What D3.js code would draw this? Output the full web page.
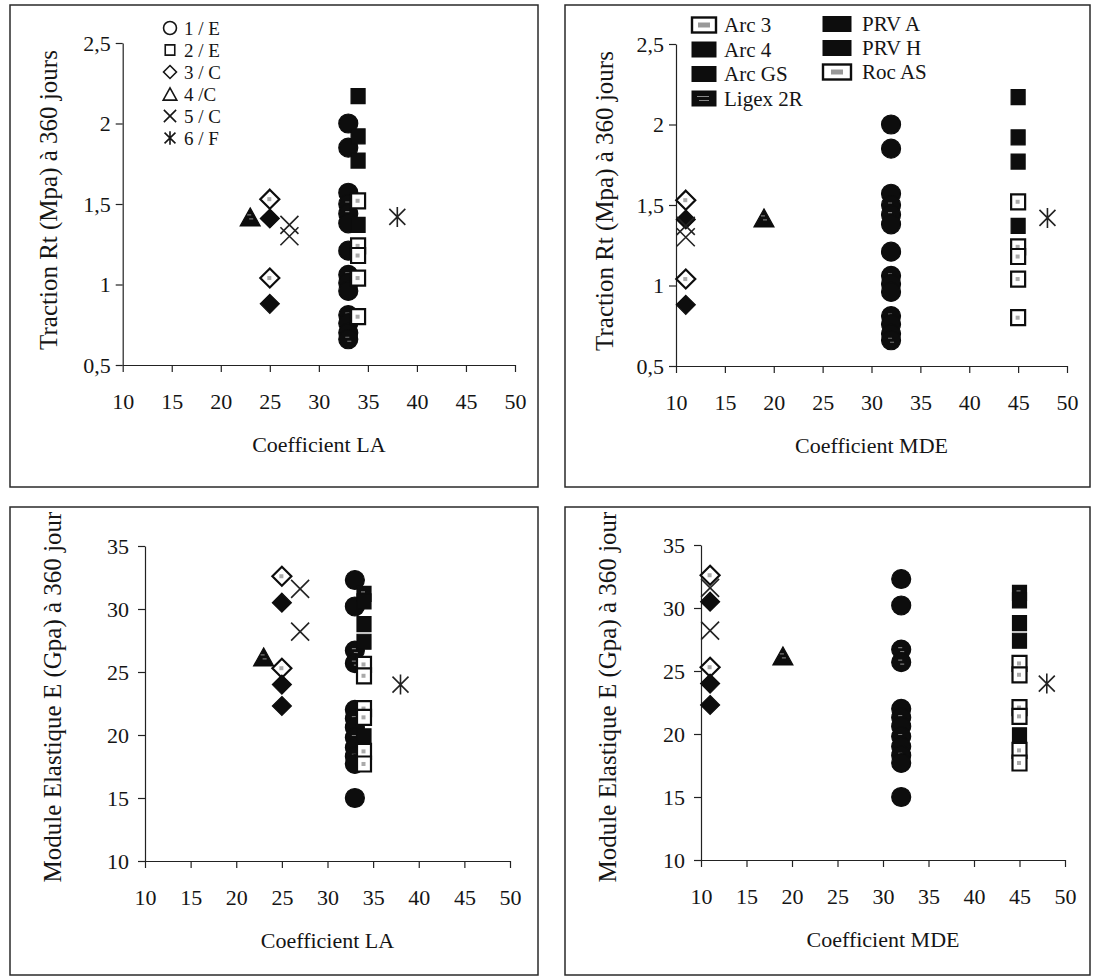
<!DOCTYPE html>
<html><head><meta charset="utf-8">
<script src="https://cdn.jsdelivr.net/npm/d3@7"></script>
<style>
body{margin:0;background:#fff}
text{font-family:"Liberation Serif","Times New Roman",serif;fill:#151515}
</style>
</head><body>
<svg id="c" width="1094" height="978"></svg>
<script>
// ---------------- data ----------------
const groups = ["1 / E", "2 / E", "3 / C", "4 /C", "5 / C", "6 / F"];
const groupLA = [33, 34, 25, 23, 27, 38];
const groupMDE = [32, 45, 11, 19, 11, 48];
const products = ["Arc 3", "Arc 4", "Arc GS", "Ligex 2R", "PRV A", "PRV H", "Roc AS"];

// Traction Rt (MPa) at 360 days, per group
const rtG1 = [2.00, 1.85, 1.57, 1.50, 1.44, 1.38, 1.21, 1.06, 1.01, 0.96, 0.81, 0.76, 0.70, 0.66];
const rtG1Prod = ["PRV A", "PRV H", "Arc GS", "Ligex 2R", "Ligex 2R", "Arc 4", "Arc 4", "Ligex 2R", "Arc GS", "PRV A", "Ligex 2R", "PRV H", "Arc 4", "Ligex 2R"];
const rtG2 = [2.17, 1.92, 1.77, 1.52, 1.37, 1.24, 1.18, 1.04, 0.80];
const rtG2Prod = ["PRV A", "PRV H", "Arc GS", "Arc 3", "Arc 4", "Roc AS", "Roc AS", "Arc 3", "Roc AS"];
const rtG3 = [1.53, 1.41, 1.04, 0.88];
const rtG3Prod = ["Arc 3", "Arc 4", "Roc AS", "Arc GS"];
const rtG4 = [1.42];
const rtG4Prod = ["Ligex 2R"];
const rtG5 = [1.37, 1.30];
const rtG5Prod = ["Arc 4", "Arc GS"];
const rtG6 = [1.42];
const rtG6Prod = ["PRV A"];

// Module élastique E (GPa) at 360 days, per group
const eG1 = [32.3, 30.2, 26.7, 25.7, 22.0, 21.3, 20.6, 19.8, 19.0, 18.3, 17.7, 15.0];
const eG1Prod = ["PRV A", "PRV H", "Ligex 2R", "Ligex 2R", "Arc 4", "Ligex 2R", "Arc GS", "Ligex 2R", "Arc 4", "Ligex 2R", "PRV H", "Arc GS"];
const eG2 = [31.2, 30.6, 28.8, 27.4, 25.6, 24.7, 22.1, 21.4, 19.9, 18.7, 17.7];
const eG2Prod = ["Ligex 2R", "PRV A", "PRV H", "Arc GS", "Arc 3", "Roc AS", "Arc 3", "Roc AS", "Arc 4", "Arc 3", "Roc AS"];
const eG3 = [32.6, 30.5, 25.3, 24.0, 22.3];
const eG3Prod = ["Arc 3", "Arc 4", "Roc AS", "Arc GS", "PRV A"];
const eG4 = [26.2];
const eG4Prod = ["Ligex 2R"];
const eG5 = [31.6, 28.2];
const eG5Prod = ["Arc 4", "Arc GS"];
const eG6 = [24.0];
const eG6Prod = ["PRV A"];

const rtTicks = [0.5, 1, 1.5, 2, 2.5];
const eTicks = [10, 15, 20, 25, 30, 35];
const xTicks = [10, 15, 20, 25, 30, 35, 40, 45, 50];

// ---------------- build ----------------
function build(vals, prods) {
  const out = [];
  vals.forEach((arr, g) => arr.forEach((v, i) => out.push({g, la: groupLA[g], mde: groupMDE[g], v, prod: prods[g][i]})));
  return out;
}
const rtPts = build([rtG1, rtG2, rtG3, rtG4, rtG5, rtG6], [rtG1Prod, rtG2Prod, rtG3Prod, rtG4Prod, rtG5Prod, rtG6Prod]);
const ePts = build([eG1, eG2, eG3, eG4, eG5, eG6], [eG1Prod, eG2Prod, eG3Prod, eG4Prod, eG5Prod, eG6Prod]);

const whiteProds = new Set(["Arc 3", "Roc AS"]);
const svg = d3.select("#c");
const fmt = d => String(d).replace(".", ",");

// marker shapes
function shapePath(g, s) {
  switch (g) {
    case 0: { const r = 9.5 * s; return `M${-r},0A${r},${r} 0 1,0 ${r},0A${r},${r} 0 1,0 ${-r},0Z`; }
    case 1: { const w = 7 * s, h = 7.5 * s; return `M${-w},${-h}H${w}V${h}H${-w}Z`; }
    case 2: { const h = 9.5 * s; return `M0,${-h}L${h},0L0,${h}L${-h},0Z`; }
    case 3: { const w = 10 * s, h = 9 * s; return `M0,${-h}L${w},${h}L${-w},${h}Z`; }
    case 4: { const r = 9 * s; return `M${-r},${-r}L${r},${r}M${-r},${r}L${r},${-r}`; }
    case 5: { const r = 8 * s, v = 10 * s; return `M${-r},${-r}L${r},${r}M${-r},${r}L${r},${-r}M0,${-v}L0,${v}`; }
  }
}

function drawMarker(sel, d, cx, cy) {
  const g = sel.append("g").attr("transform", `translate(${cx},${cy})`);
  if (d.g >= 4) {
    g.append("path").attr("d", shapePath(d.g, 1)).attr("fill", "none").attr("stroke", "#222").attr("stroke-width", 1.6);
    return;
  }
  const white = whiteProds.has(d.prod);
  g.append("path").attr("d", shapePath(d.g, 1))
    .attr("fill", white ? "#fff" : "#0d0d0d")
    .attr("stroke", "#0d0d0d").attr("stroke-width", white ? 2.2 : 1.2);
  if (white) {
    g.append("rect").attr("x", -2.5).attr("y", -2).attr("width", 4).attr("height", 4).attr("fill", "#aaa");
  } else if (d.prod === "Ligex 2R") {
    g.append("path").attr("d", "M-3,-2h4M-1,2h4").attr("stroke", "#777").attr("stroke-width", 1.2);
  }
}

const panels = [
  {pts: rtPts, key: "la", box: [10, 5, 538, 487], xr: [122.7, 515], yr: [365, 43], dom: [0.5, 2.5], ticks: rtTicks,
   xt: "Coefficient LA", yt: "Traction Rt (Mpa) à 360 jours", ytx: 48, yty: 200, ypad: 5},
  {pts: rtPts, key: "mde", box: [565, 5, 1090, 487], xr: [676, 1067], yr: [366, 44], dom: [0.5, 2.5], ticks: rtTicks,
   xt: "Coefficient MDE", yt: "Traction Rt (Mpa) à 360 jours", ytx: 604, yty: 201, ypad: 5},
  {pts: ePts, key: "la", box: [10, 507, 538, 975], xr: [145, 510], yr: [861, 546], dom: [10, 35], ticks: eTicks,
   xt: "Coefficient LA", yt: "Module Elastique E (Gpa) à 360 jour", ytx: 52, yty: 697, ypad: 9},
  {pts: ePts, key: "mde", box: [565, 507, 1090, 975], xr: [701, 1065], yr: [860, 545], dom: [10, 35], ticks: eTicks,
   xt: "Coefficient MDE", yt: "Module Elastique E (Gpa) à 360 jour", ytx: 607, yty: 697, ypad: 9}
];

panels.forEach(p => {
  const [bx0, by0, bx1, by1] = p.box;
  svg.append("rect").attr("x", bx0).attr("y", by0).attr("width", bx1 - bx0).attr("height", by1 - by0)
    .attr("fill", "none").attr("stroke", "#2a2a2a").attr("stroke-width", 1.5);
  const x = d3.scaleLinear().domain([10, 50]).range(p.xr);
  const y = d3.scaleLinear().domain(p.dom).range(p.yr);
  const gx = svg.append("g").attr("transform", `translate(0,${p.yr[0]})`)
    .call(d3.axisBottom(x).tickValues(xTicks).tickSize(7).tickSizeOuter(0).tickPadding(21).tickFormat(fmt));
  const gy = svg.append("g").attr("transform", `translate(${p.xr[0]},0)`)
    .call(d3.axisLeft(y).tickValues(p.ticks).tickSize(7).tickSizeOuter(0).tickPadding(p.ypad).tickFormat(fmt));
  [gx, gy].forEach(g => {
    g.attr("font-family", null).attr("font-size", null);
    g.selectAll("path,line").attr("stroke", "#222").attr("stroke-width", 1.2);
    g.selectAll("text").style("font-size", "22px").attr("fill", "#151515");
  });
  svg.append("text").attr("x", (p.xr[0] + p.xr[1]) / 2).attr("y", p.yr[0] + 87)
    .attr("text-anchor", "middle").style("font-size", "22px").text(p.xt);
  svg.append("text").attr("transform", `translate(${p.ytx},${p.yty}) rotate(-90)`)
    .attr("text-anchor", "middle").attr("dominant-baseline", "central").style("font-size", "25px").text(p.yt);

  const mg = svg.append("g");
  // circles first, then the others, so squares sit on top of circles
  const order = [0, 2, 3, 1, 4, 5];
  order.forEach(gi => p.pts.filter(d => d.g === gi).forEach(d => drawMarker(mg, d, x(d[p.key]), y(d.v))));
});

// legend of groups (top-left)
const lg = svg.append("g");
groups.forEach((name, i) => {
  const cy = 28 + i * 22;
  lg.append("path").attr("transform", `translate(170,${cy})`).attr("d", shapePath(i, 0.68))
    .attr("fill", "none").attr("stroke", "#151515").attr("stroke-width", 1.6);
  lg.append("text").attr("x", 184).attr("y", cy + 6.5).style("font-size", "19px").text(name);
});

// legend of products (top-right)
const pl = svg.append("g");
const col1 = products.slice(0, 4), col2 = products.slice(4);
function swatch(name, x0, cy, w) {
  const white = whiteProds.has(name);
  pl.append("rect").attr("x", x0).attr("y", cy - 7.5).attr("width", w).attr("height", 15)
    .attr("fill", white ? "#fff" : "#0d0d0d").attr("stroke", "#0d0d0d").attr("stroke-width", white ? 2.4 : 1);
  if (white) pl.append("rect").attr("x", x0 + w / 2 - 6).attr("y", cy - 2.5).attr("width", 12).attr("height", 5).attr("fill", "#999");
  if (name === "Ligex 2R") pl.append("path").attr("d", `M${x0 + 5},${cy - 2}h12M${x0 + 7},${cy + 2}h10`).attr("stroke", "#888").attr("stroke-width", 1.2);
}
col1.forEach((name, i) => {
  const cy = 25 + i * 24.5;
  swatch(name, 692, cy, 24);
  pl.append("text").attr("x", 724).attr("y", cy + 7).style("font-size", "21px").text(name);
});
col2.forEach((name, i) => {
  const cy = 24 + i * 24;
  swatch(name, 823, cy, 28);
  pl.append("text").attr("x", 862).attr("y", cy + 7).style("font-size", "21px").text(name);
});
</script>
</body></html>
